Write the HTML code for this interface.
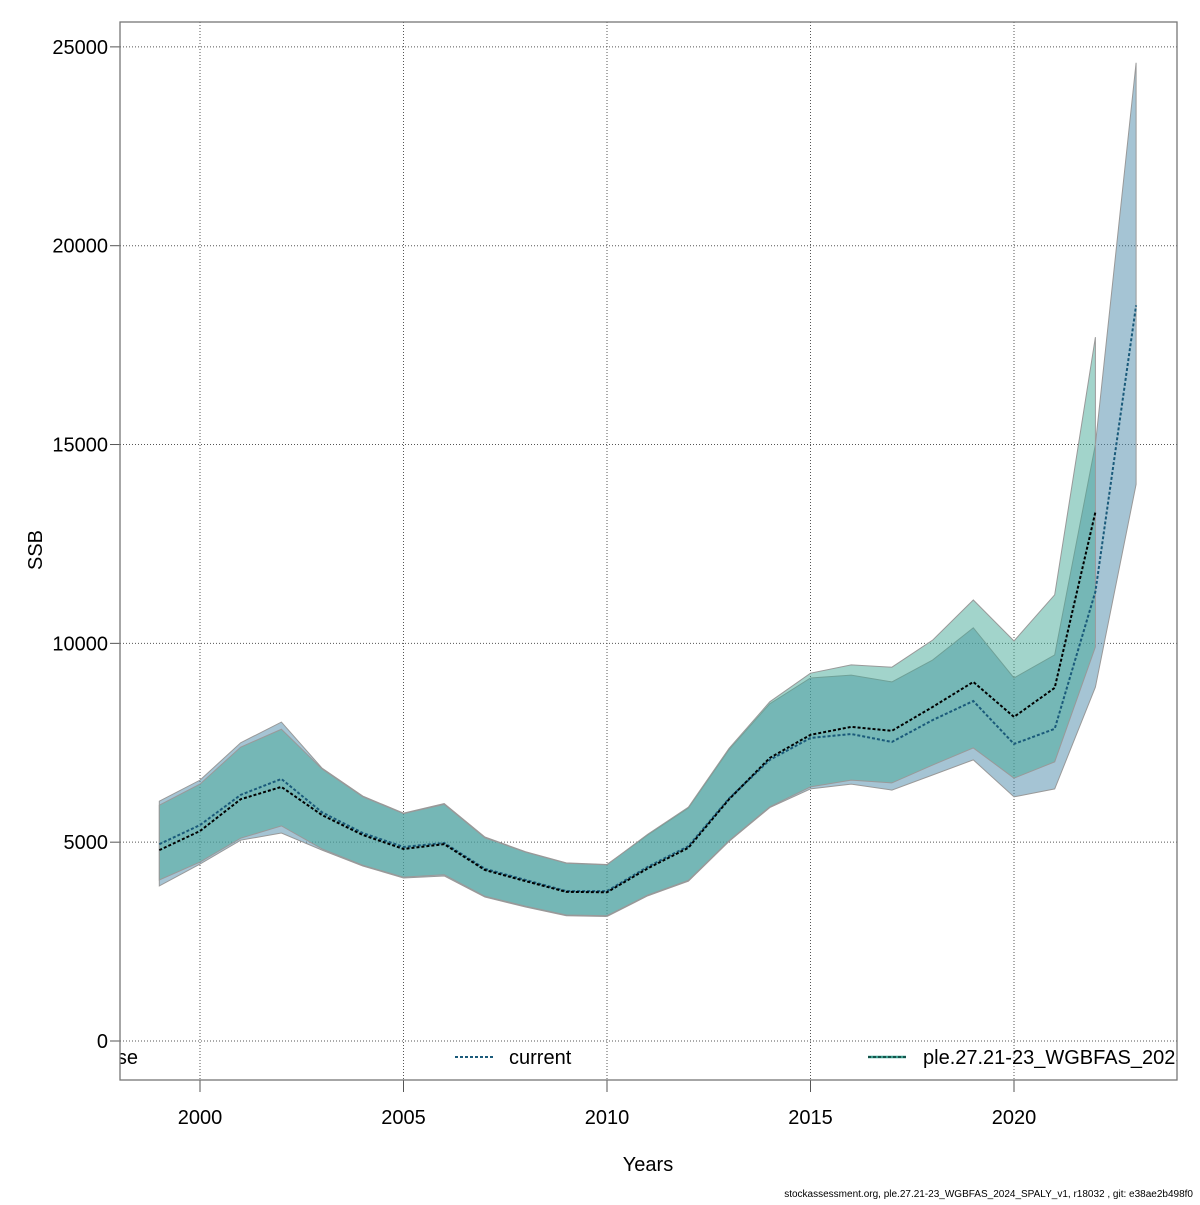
<!DOCTYPE html>
<html><head><meta charset="utf-8"><style>
body{margin:0;background:#fff}
svg text{font-family:"Liberation Sans",sans-serif}
</style></head><body>
<svg id="chart" width="1200" height="1200" viewBox="0 0 1200 1200" xmlns="http://www.w3.org/2000/svg">
<defs><clipPath id="plotclip"><rect x="120" y="22" width="1057" height="1058"/></clipPath></defs>
<rect width="1200" height="1200" fill="#fff"/>
<g id="grid"></g>
<g id="bands"></g>
<g id="lines"></g>
<g id="axes"></g>
<g clip-path="url(#plotclip)">
<text x="138" y="1064" font-size="20" text-anchor="end">base</text>
<line x1="455" y1="1057" x2="493" y2="1057" stroke="#1a5a7a" stroke-width="2" stroke-dasharray="3,2"/>
<text x="509" y="1064" font-size="20">current</text>
<line x1="868" y1="1057" x2="906" y2="1057" stroke="#3aa090" stroke-width="2.5"/>
<line x1="868" y1="1057" x2="906" y2="1057" stroke="#0a3a35" stroke-width="1.5" stroke-dasharray="3,2"/>
<text x="923" y="1064" font-size="20">ple.27.21-23_WGBFAS_2023</text>
</g>
<rect x="120" y="22" width="1057" height="1058" fill="none" stroke="#777" stroke-width="1.3"/>
<text x="42" y="550" font-size="20" text-anchor="middle" transform="rotate(-90 42 550)">SSB</text>
<text x="648" y="1171" font-size="20" text-anchor="middle">Years</text>
<text x="1193" y="1197" font-size="10" text-anchor="end">stockassessment.org, ple.27.21-23_WGBFAS_2024_SPALY_v1, r18032 , git: e38ae2b498f0</text>
</svg>
<script>
const years = [1999,2000,2001,2002,2003,2004,2005,2006,2007,2008,2009,2010,2011,2012,2013,2014,2015,2016,2017,2018,2019,2020,2021,2022,2023];
const curMid = [4950,5430,6190,6590,5750,5230,4880,4980,4330,4050,3770,3770,4380,4900,6100,7070,7620,7720,7520,8070,8550,7470,7850,11300,18500];
const curLow = [3900,4450,5050,5230,4800,4400,4100,4150,3620,3370,3150,3130,3650,4020,5020,5870,6340,6460,6310,6690,7070,6140,6340,8900,14000];
const curHigh = [6030,6560,7500,8020,6860,6160,5730,5970,5130,4760,4480,4440,5180,5860,7330,8480,9130,9200,9030,9580,10390,9130,9710,15000,24600];
const prevYears = [1999,2000,2001,2002,2003,2004,2005,2006,2007,2008,2009,2010,2011,2012,2013,2014,2015,2016,2017,2018,2019,2020,2021,2022];
const prevMid = [4800,5280,6080,6390,5680,5180,4830,4950,4300,4020,3750,3740,4340,4860,6080,7120,7700,7900,7800,8400,9030,8150,8880,13300];
const prevLow = [4050,4500,5100,5410,4830,4420,4120,4180,3640,3390,3170,3150,3670,4040,5040,5890,6390,6560,6490,6940,7370,6610,7020,9910];
const prevHigh = [5930,6460,7390,7840,6840,6140,5720,5950,5110,4750,4470,4430,5200,5880,7360,8530,9250,9460,9400,10080,11090,10060,11220,17700];
const yTicks = [0,5000,10000,15000,20000,25000];
const xTicks = [2000,2005,2010,2015,2020];

const NS="http://www.w3.org/2000/svg";
const X = yr => 200 + (yr-2000)*40.7;
const Y = v => 1041 - v*0.039765;
function mk(tag, attrs, parent){const e=document.createElementNS(NS,tag);for(const k in attrs)e.setAttribute(k,attrs[k]);document.getElementById(parent).appendChild(e);return e;}

yTicks.forEach(v=>{
  const g=mk('line',{x1:120,x2:1177,y1:Y(v),y2:Y(v),stroke:'#555','stroke-width':1,'stroke-dasharray':'1,2'},'grid');
  
  
  const t=mk('line',{x1:110,x2:120,y1:Y(v),y2:Y(v),stroke:'#555'},'axes');
  
  
  const l=mk('text',{x:108,y:Y(v)+7,'font-size':20,'text-anchor':'end'},'axes');
  l.textContent=v;
  
  
});
xTicks.forEach(v=>{
  const g=mk('line',{x1:X(v),x2:X(v),y1:22,y2:1080,stroke:'#555','stroke-width':1,'stroke-dasharray':'1,2'},'grid');
  
  
  const t=mk('line',{x1:X(v),x2:X(v),y1:1080,y2:1092,stroke:'#555'},'axes');
  
  
  const l=mk('text',{x:X(v),y:1124,'font-size':20,'text-anchor':'middle'},'axes');
  l.textContent=v;
  
  
});
function band(yrs,lo,hi,fill,name){
  let pts=yrs.map((y,i)=>X(y)+','+Y(hi[i]));
  for(let i=yrs.length-1;i>=0;i--)pts.push(X(yrs[i])+','+Y(lo[i]));
  const p=mk('polygon',{points:pts.join(' '),fill:fill,'fill-opacity':0.5,stroke:'#999','stroke-width':1},'bands');
  
  
}
function line(yrs,v,col,name){
  const p=mk('polyline',{points:yrs.map((y,i)=>X(y)+','+Y(v[i])).join(' '),fill:'none',stroke:col,'stroke-width':2,'stroke-dasharray':'3,2'},'lines');
  
  
}
band(years,curLow,curHigh,'rgb(75,137,169)','current-confidence-band');
band(prevYears,prevLow,prevHigh,'rgb(69,169,151)','wgbfas-2023-confidence-band');
line(years,curMid,'#1a5a7a','current-ssb-line');
line(prevYears,prevMid,'#000','wgbfas-2023-ssb-line');
</script>
</body></html>
